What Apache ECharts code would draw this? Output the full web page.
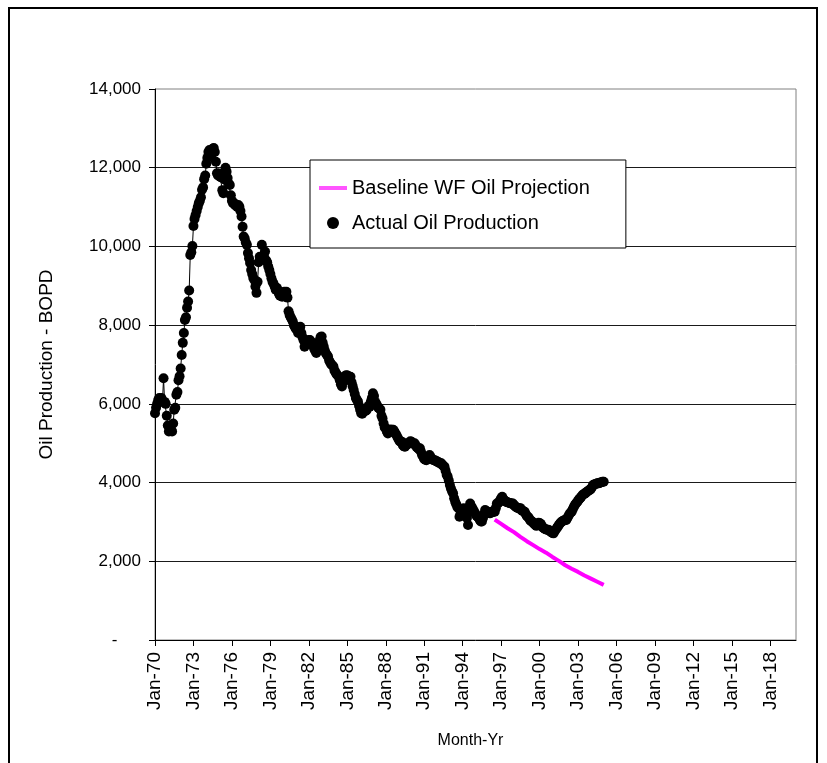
<!DOCTYPE html>
<html><head><meta charset="utf-8">
<script src="https://cdn.jsdelivr.net/npm/echarts@6/dist/echarts.min.js"></script>
<style>html,body{margin:0;padding:0;background:#fff}#c{width:827px;height:763px}</style>
</head><body><div id="c"></div>
<script>
// x values are months since Jan-1970
const xTickMonths = [0, 36, 72, 108, 144, 180, 216, 252, 288, 324, 360, 396, 432, 468, 504, 540, 576];
const xTickLabels = ['Jan-70','Jan-73','Jan-76','Jan-79','Jan-82','Jan-85','Jan-88','Jan-91','Jan-94','Jan-97','Jan-00','Jan-03','Jan-06','Jan-09','Jan-12','Jan-15','Jan-18'];
const yTicks = [0, 2000, 4000, 6000, 8000, 10000, 12000, 14000];

const seriesNames = ['Baseline WF Oil Projection', 'Actual Oil Production'];

// Actual Oil Production, monthly from Jan-70 (month 0)
const actualStartMonth = 0;
const actualBopd = [
  5760, 5900, 6000, 6100, 6150, 6100, 6150, 6050, 6650, 6050, 6000, 5700,
  5450, 5300, 5350, 5450, 5300, 5500, 5850, 5900, 6230, 6300, 6600, 6700,
  6900, 7240, 7550, 7800, 8130, 8200, 8440, 8600, 8880, 9780, 9850, 10010,
  10520, 10700, 10800, 10900, 11000, 11100, 11160, 11250, 11440, 11500, 11710, 11800,
  12100, 12250, 12400, 12450, 12300, 12350, 12480, 12500, 12400, 12150, 11860, 11800,
  11850, 11770, 11750, 11430, 11350, 11700, 12000, 11900, 11740, 11600, 11560, 11300,
  11160, 11100, 11100, 11050, 11050, 11000, 11050, 11010, 10900, 10760, 10500, 10250,
  10200, 10100, 10040, 9830, 9700, 9580, 9400, 9300, 9200, 9150, 8980, 8820,
  9100, 9600, 9740, 9700, 10040, 9700, 9750, 9870, 9650, 9600, 9490, 9400,
  9300, 9190, 9100, 9050, 8980, 8900, 8950, 8890, 8800, 8750, 8800, 8720,
  8800, 8850, 8800, 8850, 8700, 8350, 8260, 8200, 8150, 8090, 8000, 7950,
  7900, 7880, 7800, 7900, 7960, 7800, 7700, 7620, 7450, 7500, 7550, 7600,
  7620, 7620, 7500, 7550, 7540, 7400, 7350, 7290, 7350, 7500, 7600, 7700,
  7710, 7550, 7450, 7350, 7280, 7240, 7200, 7100, 7050, 7000, 6980, 6950,
  6850, 6800, 6750, 6720, 6690, 6600, 6500, 6440, 6550, 6650, 6700, 6730,
  6720, 6700, 6690, 6690, 6550, 6450, 6350, 6250, 6150, 6100, 6060, 5950,
  5850, 5760, 5750, 5800, 5850, 5820, 5840, 5900, 5950, 5930, 6050, 6150,
  6270, 6200, 6050, 6010, 5950, 5900, 5880, 5850, 5700, 5630, 5500, 5400,
  5380, 5300, 5250, 5300, 5350, 5300, 5340, 5340, 5300, 5250, 5210, 5150,
  5100, 5050, 5040, 5040, 4950, 4920, 4910, 4950, 5000, 4980, 5000, 5050,
  5040, 5000, 4980, 5000, 4950, 4900, 4880, 4850, 4870, 4780, 4700, 4660,
  4600, 4580, 4570, 4600, 4650, 4700, 4650, 4600, 4580, 4570, 4570, 4550,
  4530, 4530, 4500, 4490, 4490, 4450, 4420, 4400, 4300, 4200, 4150, 4050,
  3940, 3850, 3780, 3730, 3600, 3510, 3450, 3380, 3350, 3130, 3200, 3250,
  3300, 3350, 3260, 3200, 3100, 2920, 3300, 3470, 3400, 3350, 3300, 3250,
  3200, 3150, 3130, 3130, 3050, 3010, 3010, 3100, 3200, 3300, 3280, 3250,
  3230, 3220, 3220, 3260, 3250, 3260, 3260, 3350, 3470, 3470, 3500, 3550,
  3600, 3640, 3580, 3550, 3520, 3510, 3500, 3490, 3480, 3470, 3470, 3470,
  3430, 3400, 3380, 3360, 3350, 3350, 3350, 3300, 3280, 3270, 3260, 3200,
  3150, 3130, 3100, 3050, 3020, 3010, 2980, 2950, 2920, 2900, 2950, 2980,
  2970, 2950, 2900, 2860, 2840, 2820, 2810, 2800, 2800, 2790, 2760, 2740,
  2720, 2710, 2760, 2800, 2840, 2880, 2920, 2960, 2990, 3010, 3030, 3040,
  3050, 3050, 3100, 3150, 3200, 3240, 3260, 3320, 3380, 3430, 3470, 3500,
  3540, 3580, 3600, 3640, 3680, 3700, 3720, 3730, 3760, 3780, 3800, 3810,
  3840, 3880, 3940, 3950, 3960, 3970, 3980, 3980, 3990, 4000, 4010, 4020,
  4020
];

// Baseline WF Oil Projection
const projMonths = [318, 324, 330, 336, 342, 348, 354, 360, 366, 372, 378, 384, 390, 396, 402, 408, 414, 420];
const projBopd   = [3060, 2950, 2840, 2740, 2620, 2510, 2410, 2310, 2220, 2110, 2010, 1900, 1810, 1730, 1640, 1560, 1480, 1400];

const FONT = "'Liberation Sans', Arial, sans-serif";

const chart = echarts.init(document.getElementById('c'), null, {renderer: 'canvas'});
chart.setOption({
  animation: false,
  backgroundColor: '#fff',
  graphic: [{
    type: 'rect', silent: true, z: 100,
    shape: {x: 9, y: 8, width: 808, height: 800},
    style: {fill: 'none', stroke: '#000', lineWidth: 2}
  }],
  grid: {left: 155, right: 31, top: 89, bottom: 123, containLabel: false,
         show: true, borderColor: '#808080', borderWidth: 1},
  legend: {
    orient: 'vertical', left: 310, top: 160,
    padding: [18, 36, 15, 9],
    itemWidth: 28, itemHeight: 12, itemGap: 15,
    backgroundColor: '#fff', borderColor: '#000', borderWidth: 1,
    textStyle: {fontFamily: FONT, fontSize: 20, color: '#000', lineHeight: 20},
    data: [
      {name: seriesNames[0], icon: 'path://M0,0L28,0L28,4L0,4Z', itemStyle: {color: '#FF55FF'}},
      {name: seriesNames[1], icon: 'circle'}
    ]
  },
  xAxis: {
    type: 'value', min: 0, max: 600,
    name: 'Month-Yr', nameLocation: 'middle', nameGap: 93,
    nameTextStyle: {fontFamily: FONT, fontSize: 16, color: '#000', padding: [0, 10, 0, 0]},
    axisLine: {show: true, onZero: false, lineStyle: {color: '#000', width: 1}},
    axisTick: {show: true, inside: false, length: 6, lineStyle: {color: '#000'}, customValues: xTickMonths},
    axisLabel: {
      customValues: xTickMonths, rotate: 90, margin: 12,
      fontFamily: FONT, fontSize: 19, color: '#000',
      formatter: v => { const i = xTickMonths.indexOf(v); return i >= 0 ? xTickLabels[i] : ''; }
    },
    splitLine: {show: false}
  },
  yAxis: {
    type: 'value', min: yTicks[0], max: yTicks[yTicks.length - 1], interval: 2000,
    name: 'Oil Production - BOPD', nameLocation: 'middle', nameGap: 99,
    nameTextStyle: {fontFamily: FONT, fontSize: 19, color: '#000'},
    axisLine: {show: true, lineStyle: {color: '#000', width: 1}},
    axisTick: {show: true, inside: false, length: 6, lineStyle: {color: '#000'}},
    axisLabel: {
      margin: 14, fontFamily: FONT, fontSize: 17, color: '#000',
      formatter: v => v === 0 ? '-     ' : v.toLocaleString('en-US')
    },
    splitLine: {show: true, showMinLine: false, showMaxLine: false, lineStyle: {color: '#1a1a1a', width: 1}}
  },
  series: [
    {
      name: seriesNames[0], type: 'line', z: 2,
      data: projMonths.map((m, i) => [m, projBopd[i]]),
      symbol: 'none', smooth: false,
      lineStyle: {color: '#FF00FF', width: 4},
      itemStyle: {color: '#FF00FF'}
    },
    {
      name: seriesNames[1], type: 'line', z: 3,
      data: actualBopd.map((v, i) => [actualStartMonth + i, v]),
      symbol: 'circle', symbolSize: 10, showSymbol: true, showAllSymbol: true,
      itemStyle: {color: '#000', borderColor: '#000', borderWidth: 0},
      lineStyle: {color: '#000', width: 1}
    }
  ]
});
</script>
</body></html>
